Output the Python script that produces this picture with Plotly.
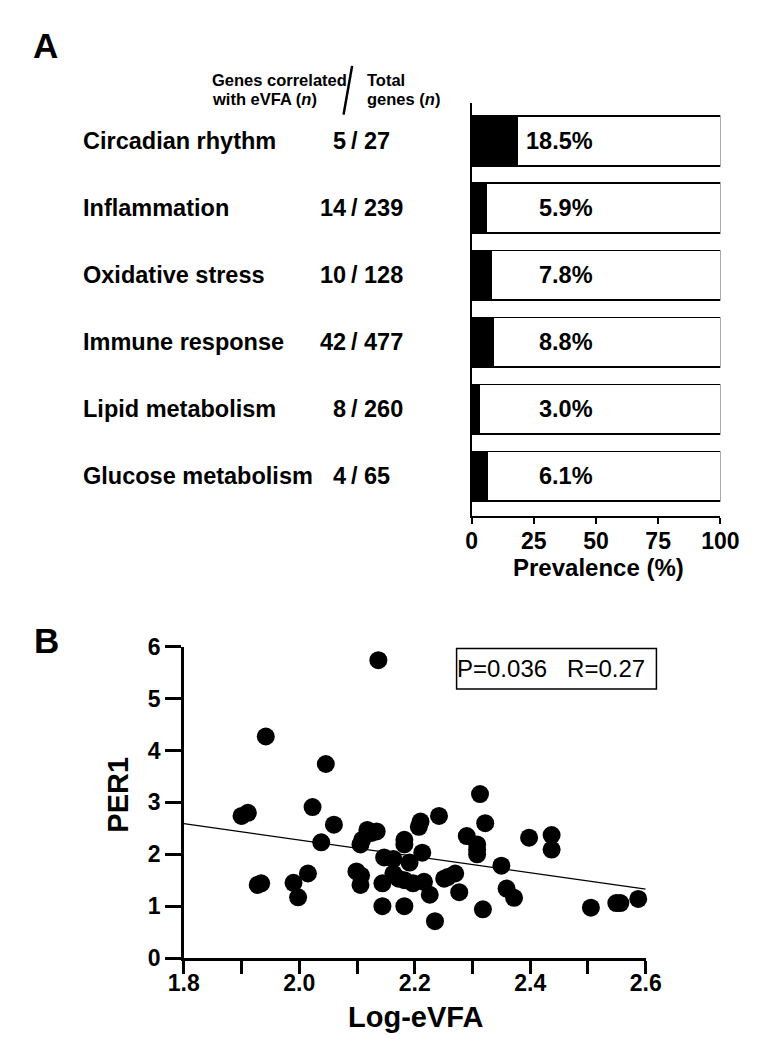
import plotly.graph_objects as go

W, H = 759, 1044


def px(x):
    return x / W


def py(y):
    return 1 - y / H


# ---------------- Panel A data ----------------
categories = ["Circadian rhythm", "Inflammation", "Oxidative stress",
              "Immune response", "Lipid metabolism", "Glucose metabolism"]
genes_correlated = [5, 14, 10, 42, 8, 4]
genes_total = [27, 239, 128, 477, 260, 65]
prevalence = [18.5, 5.9, 7.8, 8.8, 3.0, 6.1]
prevalence_ticks = [0, 25, 50, 75, 100]

# ---------------- Panel B data ----------------
log_evfa = [2.137, 1.942, 2.046, 1.900, 1.911, 2.023, 2.060, 2.038, 1.928, 1.934,
            1.990, 1.998, 2.015, 2.099, 2.107, 2.106, 2.106, 2.109, 2.118, 2.125,
            2.134, 2.147, 2.163, 2.144, 2.144, 2.163, 2.172, 2.182, 2.182, 2.182,
            2.191, 2.182, 2.197, 2.207, 2.210, 2.213, 2.216, 2.226, 2.235, 2.242,
            2.251, 2.257, 2.270, 2.277, 2.290, 2.308, 2.308, 2.308, 2.313, 2.322,
            2.318, 2.350, 2.359, 2.372, 2.398, 2.437, 2.437, 2.505, 2.549, 2.556,
            2.587]
per1 = [5.74, 4.27, 3.74, 2.74, 2.80, 2.91, 2.57, 2.23, 1.41, 1.44,
        1.45, 1.17, 1.63, 1.67, 1.59, 1.41, 2.19, 2.28, 2.47, 2.41,
        2.44, 1.94, 1.91, 1.44, 1.00, 1.63, 1.53, 1.50, 2.28, 2.19,
        1.84, 1.00, 1.44, 2.53, 2.63, 2.03, 1.47, 1.22, 0.71, 2.74,
        1.53, 1.56, 1.63, 1.27, 2.35, 2.19, 2.09, 2.00, 3.16, 2.60,
        0.94, 1.78, 1.34, 1.16, 2.32, 2.37, 2.09, 0.97, 1.06, 1.06,
        1.14]
trend_x = [1.8, 2.6]
trend_y = [2.59, 1.33]
x_ticks = [1.8, 2.0, 2.2, 2.4, 2.6]
y_ticks = [0, 1, 2, 3, 4, 5, 6]
stats_text = "P=0.036   R=0.27"

FONT = "Liberation Sans, Arial, Helvetica, sans-serif"
rows = list(range(len(categories)))

fig = go.Figure()

# stacked bars: filled share + remaining share
fig.add_trace(go.Bar(
    y=rows, x=prevalence, orientation="h", width=0.74,
    marker=dict(color="black", line=dict(color="black", width=1.5)),
    xaxis="x", yaxis="y", showlegend=False, hoverinfo="skip"))
fig.add_trace(go.Bar(
    y=rows, x=[100 - p for p in prevalence], orientation="h", width=0.74,
    marker=dict(color="white", line=dict(color="black", width=1.5)),
    xaxis="x", yaxis="y", showlegend=False, hoverinfo="skip"))

# scatter + regression line
fig.add_trace(go.Scatter(
    x=trend_x, y=trend_y, mode="lines",
    line=dict(color="black", width=1.2),
    xaxis="x2", yaxis="y2", showlegend=False, cliponaxis=False))
fig.add_trace(go.Scatter(
    x=log_evfa, y=per1, mode="markers",
    marker=dict(color="black", size=18, line=dict(width=0)),
    xaxis="x2", yaxis="y2", showlegend=False, cliponaxis=False))

annotations = []
bold = dict(family=FONT, color="black", weight="bold")


def ann(text, x, y, size, xanchor="center", yanchor="middle", xref="paper",
        yref="paper", weight_bold=True, **kw):
    f = dict(size=size, **bold) if weight_bold else dict(size=size, family=FONT,
                                                         color="black")
    d = dict(text=text, x=x, y=y, xref=xref, yref=yref, xanchor=xanchor,
             yanchor=yanchor, showarrow=False, font=f)
    d.update(kw)
    annotations.append(d)


# panel letters
ann("A", px(7), py(25), 35, xanchor="left")
ann("B", px(8), py(635), 35, xanchor="left")

# header
for txt, x, y in [("Genes correlated", 195, 61), ("with eVFA (<i>n</i>)", 195, 80),
                  ("Total", 358, 61), ("genes (<i>n</i>)", 358, 80)]:
    ann(txt, px(x), py(y), 16.5, xanchor="left")

# row labels
for i, cat in enumerate(categories):
    ann(cat, px(60), i, 23.5, xanchor="left", yref="y")
    ann(str(genes_correlated[i]), px(340), i, 23.5, xanchor="right", yref="y")
    ann("/", px(347), i, 23.5, xanchor="center", yref="y")
    ann(str(genes_total[i]), px(354), i, 23.5, xanchor="left", yref="y")
    ann(f"{prevalence[i]:.1f}%", 49.8, i, 23.5, xanchor="right", xref="x", yref="y")

# axis titles
ann("Prevalence (%)", px(602), py(560), 24)
ann("Log-eVFA", px(410), py(1021), 29)
ann("PER1", px(99), py(793), 29, textangle=-90)

# stats box text
ann(stats_text.replace(" ", "&nbsp;"), px(552), py(664), 24, weight_bold=False)

shapes = [
    dict(type="line", xref="paper", yref="paper", x0=px(344), y0=py(46),
         x1=px(335), y1=py(96), line=dict(color="black", width=2.5)),
    dict(type="rect", xref="paper", yref="paper", x0=px(453.5), y0=py(643.5),
         x1=px(663), y1=py(685), line=dict(color="black", width=1.5),
         fillcolor="rgba(0,0,0,0)"),
]

axis_common = dict(showgrid=False, zeroline=False, showline=True,
                   linecolor="black", ticks="outside", tickcolor="black")

fig.update_layout(
    width=W, height=H, autosize=False,
    margin=dict(l=0, r=0, t=0, b=0),
    paper_bgcolor="white", plot_bgcolor="white",
    barmode="stack", bargap=0.26,
    font=dict(family=FONT, color="black"),
    annotations=annotations, shapes=shapes,
    xaxis=dict(domain=[px(469.3), px(730)], range=[0, 100], anchor="y",
               tickvals=prevalence_ticks, ticklen=6, tickwidth=2, linewidth=2,
               ticklabelstandoff=-3,
               tickfont=dict(size=23, **bold), **axis_common),
    yaxis=dict(domain=[py(508), py(84)], range=[5.596, -0.567], anchor="x",
               showticklabels=False, showgrid=False, zeroline=False, showline=True,
               linecolor="black", linewidth=2, ticks=""),
    xaxis2=dict(domain=[px(167.5), px(651.8)], range=[1.8, 2.6], anchor="y2",
                tickvals=x_ticks, ticktext=[f"{v:.1f}" for v in x_ticks],
                ticklen=13, tickwidth=2.5, linewidth=2.5, ticklabelstandoff=-10,
                minor=dict(ticks="outside", tick0=1.9, dtick=0.2, ticklen=13,
                           tickwidth=2.5, tickcolor="black", showgrid=False),
                tickfont=dict(size=23, **bold), **axis_common),
    yaxis2=dict(domain=[py(961), py(641.7)], range=[0, 6], anchor="x2",
                tickvals=y_ticks, ticklen=16, tickwidth=2.5, linewidth=2.5,
                tickfont=dict(size=23, **bold), **axis_common),
)

fig.write_html("out.html")
